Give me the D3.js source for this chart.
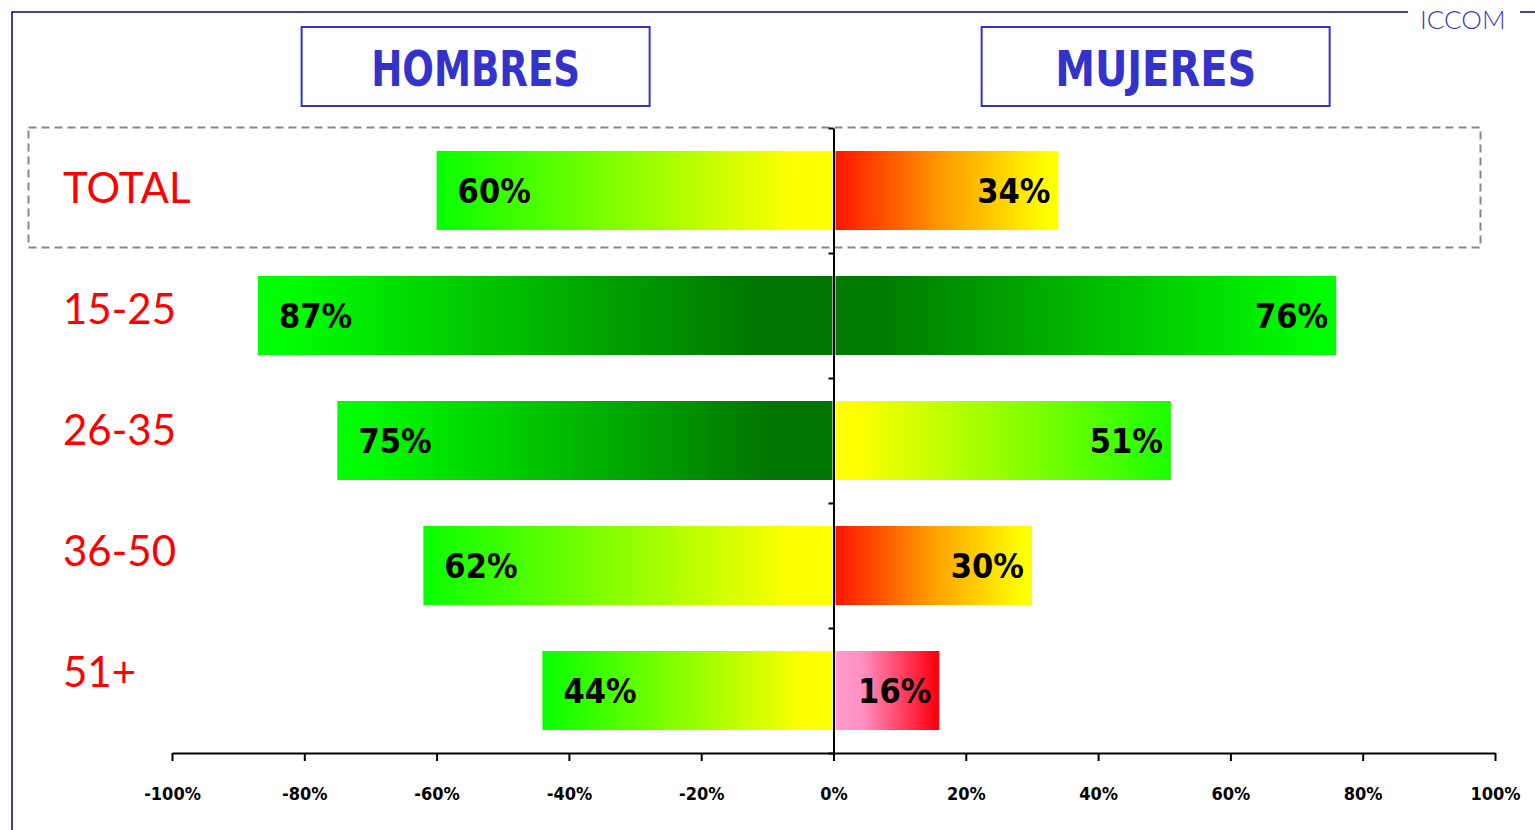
<!DOCTYPE html>
<html>
<head>
<meta charset="utf-8">
<script src="https://cdn.jsdelivr.net/npm/d3@7"></script>
<style>
  body { margin: 0; background: #fff; }
  svg { display: block; }
</style>
</head>
<body>
<svg id="chart"></svg>
<script>
// data
var categories = ["TOTAL", "15-25", "26-35", "36-50", "51+"]
var hombres = [60, 87, 75, 62, 44]
var mujeres = [34, 76, 51, 30, 16]
var tickValues = [-100, -80, -60, -40, -20, 0, 20, 40, 60, 80, 100]
var sideTitles = ["HOMBRES", "MUJERES"]

var width = 1535,
  height = 830

var svg = d3.select("#chart")
  .attr("width", width)
  .attr("height", height)

// gradients, listed left to right on screen
var schemes = {
  greenYellow: [[0, "#08ff00"], [0.9, "#ffff00"], [1, "#ffff00"]],
  greenDark: [[0, "#00ff00"], [0.05, "#00ff00"], [0.88, "#007400"], [1, "#007400"]],
  darkGreen: [[0, "#007a00"], [0.08, "#007a00"], [0.97, "#00ff00"], [1, "#00ff00"]],
  redYellow: [[0, "#ff1500"], [0.5, "#ffa000"], [0.95, "#ffff00"], [1, "#ffff00"]],
  yellowGreen: [[0, "#ffff00"], [0.06, "#ffff00"], [1, "#1cff00"]],
  pinkRed: [[0, "#ff9cce"], [0.25, "#ff90c4"], [0.97, "#ff0010"], [1, "#ff0010"]]
}
var menFill = ["greenYellow", "greenDark", "greenDark", "greenYellow", "greenYellow"]
var womenFill = ["redYellow", "darkGreen", "yellowGreen", "redYellow", "pinkRed"]

var defs = svg.append("defs")
Object.keys(schemes).forEach(function (k) {
  var g = defs.append("linearGradient")
    .attr("id", "g-" + k)
    .attr("x1", 0).attr("x2", 1).attr("y1", 0).attr("y2", 0)
  g.selectAll("stop")
    .data(schemes[k])
    .enter()
    .append("stop")
    .attr("offset", function (d) { return d[0] })
    .attr("stop-color", function (d) { return d[1] })
})

// scales
var x = d3.scaleLinear()
  .domain([-100, 100])
  .range([172, 1495])

var y = d3.scaleBand()
  .domain(categories)
  .range([128, 753])
  .paddingInner(0.368)
  .paddingOuter(0.184)

// category labels sit a little above the bar centres, drifting upward
var labelY = d3.scalePoint()
  .domain(categories)
  .range([188, 672])

// outer frame with ICCOM mark
svg.append("path")
  .attr("d", "M12,830 V12 H1408 M1520,12 H1535")
  .attr("fill", "none")
  .attr("stroke", "#000080")
  .attr("stroke-width", 1.5)

svg.append("text")
  .attr("x", 1420)
  .attr("y", 29)
  .attr("fill", "#3a3acc")
  .style("font-family", "Lato, 'Noto Sans', sans-serif")
  .style("font-weight", 300)
  .style("font-size", "26px")
  .text("ICCOM")

// title boxes
var titleX = [x(-54.1), x(48.7)]
var boxes = svg.selectAll("g.title")
  .data(sideTitles)
  .enter()
  .append("g")
  .attr("class", "title")
  .attr("transform", function (d, i) { return "translate(" + titleX[i] + ",66)" })

boxes.append("rect")
  .attr("x", -174)
  .attr("y", -39)
  .attr("width", 348)
  .attr("height", 79)
  .attr("fill", "#fff")
  .attr("stroke", "#3333cc")
  .attr("stroke-width", 2)

boxes.append("text")
  .attr("text-anchor", "middle")
  .attr("y", 20)
  .attr("fill", "#3333cc")
  .attr("textLength", function (d, i) { return i === 0 ? 209 : 201 })
  .attr("lengthAdjust", "spacingAndGlyphs")
  .style("font-family", "'DejaVu Sans Condensed', 'DejaVu Sans', sans-serif")
  .style("font-stretch", "condensed")
  .style("font-weight", "bold")
  .style("font-size", "50px")
  .text(function (d) { return d })

// dashed box round the TOTAL row
svg.append("rect")
  .attr("x", 28.5)
  .attr("y", 127.5)
  .attr("width", 1452)
  .attr("height", 120)
  .attr("fill", "none")
  .attr("stroke", "#888")
  .attr("stroke-width", 2)
  .attr("stroke-dasharray", "8,5")

// category labels
svg.selectAll("text.cat")
  .data(categories)
  .enter()
  .append("text")
  .attr("class", "cat")
  .attr("x", 63)
  .attr("y", function (d) { return labelY(d) })
  .attr("dy", "0.36em")
  .attr("fill", "#ff0000")
  .style("font-family", "Lato, 'Noto Sans', sans-serif")
  .style("font-weight", 400)
  .style("font-size", "42px")
  .text(function (d) { return d })

// men bars (left)
svg.selectAll("rect.men")
  .data(hombres)
  .enter()
  .append("rect")
  .attr("class", "men")
  .attr("x", function (d) { return x(-d) })
  .attr("y", function (d, i) { return y(categories[i]) })
  .attr("width", function (d) { return x(0) - 1 - x(-d) })
  .attr("height", y.bandwidth())
  .attr("fill", function (d, i) { return "url(#g-" + menFill[i] + ")" })

// women bars (right)
svg.selectAll("rect.women")
  .data(mujeres)
  .enter()
  .append("rect")
  .attr("class", "women")
  .attr("x", x(0) + 2)
  .attr("y", function (d, i) { return y(categories[i]) })
  .attr("width", function (d) { return x(d) - x(0) - 2 })
  .attr("height", y.bandwidth())
  .attr("fill", function (d, i) { return "url(#g-" + womenFill[i] + ")" })

// value labels
var valueFont = "'DejaVu Sans Condensed', 'DejaVu Sans', sans-serif"

svg.selectAll("text.menval")
  .data(hombres)
  .enter()
  .append("text")
  .attr("class", "menval")
  .attr("x", function (d) { return x(-d) + 21 })
  .attr("y", function (d, i) { return y(categories[i]) + y.bandwidth() / 2 })
  .attr("dy", "0.36em")
  .style("font-family", valueFont)
  .style("font-stretch", "condensed")
  .style("font-weight", "bold")
  .style("font-size", "34px")
  .text(function (d) { return d + "%" })

svg.selectAll("text.womenval")
  .data(mujeres)
  .enter()
  .append("text")
  .attr("class", "womenval")
  .attr("text-anchor", "end")
  .attr("x", function (d) { return x(d) - 8 })
  .attr("y", function (d, i) { return y(categories[i]) + y.bandwidth() / 2 })
  .attr("dy", "0.36em")
  .style("font-family", valueFont)
  .style("font-stretch", "condensed")
  .style("font-weight", "bold")
  .style("font-size", "34px")
  .text(function (d) { return d + "%" })

// vertical centre axis, ticks at band edges
var edges = d3.scaleLinear()
  .domain([0, categories.length])
  .range([y.range()[0], y.range()[1]])

svg.append("g")
  .attr("class", "yaxis")
  .attr("transform", "translate(" + x(0) + ",0)")
  .call(d3.axisLeft(edges).ticks(categories.length).tickSize(5).tickSizeOuter(0).tickFormat(""))
  .call(function (g) {
    g.selectAll("path, line").attr("stroke", "#000").attr("stroke-width", 2)
  })

// bottom axis
var xAxis = d3.axisBottom(x)
  .tickValues(tickValues)
  .tickSize(8)
  .tickSizeOuter(0)
  .tickPadding(26)
  .tickFormat(function (d) { return d + "%" })

svg.append("g")
  .attr("class", "xaxis")
  .attr("transform", "translate(0,753)")
  .call(xAxis)
  .call(function (g) {
    g.selectAll("path, line").attr("stroke", "#000").attr("stroke-width", 2)
    g.selectAll("text")
      .attr("fill", "#000")
      .style("font-family", valueFont)
      .style("font-stretch", "condensed")
      .style("font-weight", "bold")
      .style("font-size", "18px")
  })
</script>
</body>
</html>
